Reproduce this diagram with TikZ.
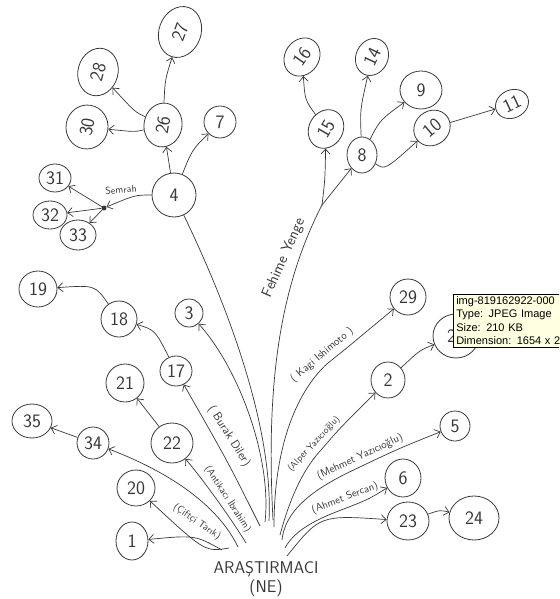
\documentclass[tikz,border=0pt]{standalone}
\usepackage{fontspec}
\newfontfamily\tipfont{Liberation Sans}
\usetikzlibrary{shapes.geometric,arrows.meta}

\definecolor{ink}{HTML}{383838}
\definecolor{tipbg}{HTML}{FFFFE1}

\tikzset{
  num/.style={draw=ink, ellipse, inner sep=0pt, line width=0.8pt, text=ink,
    font=\sffamily\fontsize{19}{19}\selectfont},
  edge/.style={draw=ink, line width=0.7pt, -{Straight Barb[length=5pt,width=9pt]}},
  stem/.style={draw=ink, line width=0.7pt},
  lbl/.style={text=ink, inner sep=0.5pt, font=\sffamily\fontsize{#1}{#1}\selectfont},
  tipbox/.style={draw=black, fill=tipbg, line width=0.6pt, align=left, anchor=north west,
    inner xsep=3pt, inner ysep=2pt, text width=130pt,
    font=\tipfont\fontsize{11}{13.5}\selectfont},
}

\begin{document}
\begin{tikzpicture}[x=1pt,y=-1pt]

\useasboundingbox (0,0) rectangle (559,599);
\clip (0,0) rectangle (559,599);

% -------------------------------------------------
% Root
% -------------------------------------------------
\node[text=ink, align=center, inner sep=0pt, font=\sffamily\fontsize{17}{19}\selectfont]
  (root) at (266,579) {ARAŞTIRMACI\\(NE)};

% -------------------------------------------------
% Nodes, left top (4 and above)
% -------------------------------------------------
\node[num, minimum width=52pt, minimum height=42pt, rotate=70] (n27) at (180,32) {27};
\node[num, minimum width=48pt, minimum height=40pt, rotate=75] (n28) at (98,72) {28};
\node[num, minimum width=44pt, minimum height=38pt, rotate=80] (n26) at (163,125) {26};
\node[num, minimum width=44pt, minimum height=42pt, rotate=80] (n30) at (87,127) {30};
\node[num, minimum width=32pt, minimum height=32pt] (n7) at (220,122) {7};
\node[num, minimum width=44pt, minimum height=44pt] (n4) at (174,195) {4};
\node[num, minimum width=32pt, minimum height=28pt] (n31) at (55,178) {31};
\node[num, minimum width=34pt, minimum height=28pt] (n32) at (50,215) {32};
\node[num, minimum width=36pt, minimum height=30pt] (n33) at (78,235) {33};
\node[circle, fill=ink, minimum size=5pt, inner sep=0pt] (sem) at (104,208) {};
\node[lbl=10, rotate=5] (lsem) at (121,190) {Semrah};

% -------------------------------------------------
% Nodes, right top (Fehime Yenge)
% -------------------------------------------------
\node[num, minimum width=40pt, minimum height=34pt, rotate=55] (n16) at (302,57) {16};
\node[num, minimum width=38pt, minimum height=32pt, rotate=65] (n14) at (372,57) {14};
\node[num, minimum width=40pt, minimum height=34pt, rotate=60] (n15) at (326,129) {15};
\node[num, minimum width=30pt, minimum height=36pt] (n8) at (362,155) {8};
\node[num, minimum width=42pt, minimum height=38pt] (n9) at (421,90) {9};
\node[num, minimum width=38pt, minimum height=34pt, rotate=40] (n10) at (432,128) {10};
\node[num, minimum width=34pt, minimum height=28pt, rotate=25] (n11) at (512,104) {11};
\coordinate (fk) at (322,205);

% -------------------------------------------------
% Nodes, left middle and bottom
% -------------------------------------------------
\node[num, minimum width=38pt, minimum height=36pt] (n19) at (38,289) {19};
\node[num, minimum width=36pt, minimum height=36pt] (n18) at (119,319) {18};
\node[num, minimum width=28pt, minimum height=28pt] (n3) at (189,313) {3};
\node[num, minimum width=32pt, minimum height=30pt] (n17) at (176,371) {17};
\node[num, minimum width=38pt, minimum height=38pt] (n21) at (125,383) {21};
\node[num, minimum width=40pt, minimum height=34pt] (n35) at (32,421) {35};
\node[num, minimum width=32pt, minimum height=32pt] (n34) at (93,443) {34};
\node[num, minimum width=42pt, minimum height=40pt] (n22) at (172,443) {22};
\node[num, minimum width=38pt, minimum height=36pt] (n20) at (136,488) {20};
\node[num, minimum width=32pt, minimum height=38pt] (n1) at (132,541) {1};

% -------------------------------------------------
% Nodes, right middle and bottom
% -------------------------------------------------
\node[num, minimum width=36pt, minimum height=36pt] (n29) at (408,297) {29};
\node[num, minimum width=34pt, minimum height=36pt] (n2) at (388,380) {2};
\node[num, minimum width=46pt, minimum height=44pt] (n2b) at (456,336) {2\hphantom{0}};
\node[num, minimum width=30pt, minimum height=30pt] (n5) at (455,426) {5};
\node[num, minimum width=36pt, minimum height=38pt] (n6) at (403,478) {6};
\node[num, minimum width=42pt, minimum height=38pt] (n23) at (408,521) {23};
\node[num, minimum width=50pt, minimum height=44pt] (n24) at (474,518) {24};

% -------------------------------------------------
% Start points above the root
% -------------------------------------------------
\coordinate (s1) at (222,550);
\coordinate (s20) at (229,548);
\coordinate (s34) at (238,547);
\coordinate (s22) at (246,543);
\coordinate (s17) at (260,526);
\coordinate (s3) at (265,522);
\coordinate (s4) at (269,521);
\coordinate (s8) at (273,520);
\coordinate (s29) at (274,527);
\coordinate (s2) at (280,535);
\coordinate (s5) at (282,540);
\coordinate (s6) at (285,548);
\coordinate (s23) at (287,556);

% -------------------------------------------------
% Connectors from the root
% -------------------------------------------------
\draw[edge] (s1) .. controls (195,535) .. (n1);
\draw[edge] (s20) .. controls (205,552) .. (n20);
\draw[edge] (s34) .. controls (226,522) and (195,482) .. (n34);
\draw[edge] (s22) .. controls (232,520) and (205,482) .. (n22);
\draw[edge] (s17) .. controls (228,462) .. (n17);
\draw[edge] (s3) .. controls (272,460) and (240,370) .. (n3);
\draw[stem] (s4) .. controls (274,420) and (220,290) .. (n4);
\draw[stem] (s8) .. controls (266,390) and (278,290) .. (fk);
\draw[edge] (s29) .. controls (274,420) and (313,376) .. (328,363)
  .. controls (348,347) .. (n29);
\draw[edge] (s2) .. controls (292,490) and (307,465) .. (321,450)
  .. controls (340,428) .. (n2);
\draw[edge] (s5) .. controls (286,500) and (337,478) .. (364,465)
  .. controls (400,448) .. (n5);
\draw[edge] (s6) .. controls (296,527) and (325,516) .. (349,507)
  .. controls (369,499) .. (n6);
\draw[edge] (s23) .. controls (320,515) .. (n23);

% -------------------------------------------------
% Labels of the connectors
% -------------------------------------------------
\node[lbl=12, rotate=-58] (lbd) at (229,436) {( Burak Diler)};
\node[lbl=10, rotate=-57] (lai) at (228,499) {(Antikacı İbrahim)};
\node[lbl=10, rotate=-34] (lct) at (197,522) {(Çiftçi Tarık)};
\node[lbl=15, rotate=66] (lfy) at (284,258) {Fehime Yenge};
\node[lbl=11, rotate=40] (lki) at (322,355) {( Kagi Ishimoto )};
\node[lbl=9.5, rotate=47] (lay) at (314,444) {(Alper Yazıcıoğlu)};
\node[lbl=11, rotate=25] (lmy) at (360,457) {(Mehmet Yazıcıoğlu)};
\node[lbl=10.5, rotate=21] (las) at (345,498) {(Ahmet Sercan)};

% -------------------------------------------------
% Connectors between numbers
% -------------------------------------------------
\draw[edge] (n4) -- (n26);
\draw[edge] (n4) .. controls (192,150) .. (n7);
\draw[edge] (n26) .. controls (165,80) .. (n27);
\draw[edge] (n26) .. controls (135,112) .. (n28);
\draw[edge] (n26) .. controls (135,132) .. (n30);
\draw[edge] (n4) .. controls (135,195) .. (sem);
\draw[edge] (sem) -- (n31);
\draw[edge] (sem) -- (n32);
\draw[edge] (sem) -- (n33);
\draw[edge] (fk) .. controls (325,180) .. (n15);
\draw[edge] (fk) -- (n8);
\draw[edge] (n15) .. controls (305,100) .. (n16);
\draw[edge] (n8) .. controls (360,110) .. (n14);
\draw[edge] (n8) .. controls (380,120) .. (n9);
\draw[edge] (n8) .. controls (385,170) .. (n10);
\draw[edge] (n10) -- (n11);
\draw[edge] (n17) .. controls (155,330) .. (n18);
\draw[edge] (n18) .. controls (95,285) .. (n19);
\draw[edge] (n22) -- (n21);
\draw[edge] (n34) -- (n35);
\draw[edge] (n2) .. controls (420,350) .. (n2b);
\draw[edge] (n23) .. controls (440,510) .. (n24);

% -------------------------------------------------
% Tooltip
% -------------------------------------------------
\node[tipbox] (tip) at (453,294)
  {img-819162922-000\\Type: JPEG Image\\Size: 210 KB\\Dimension: 1654 x 2339};

\end{tikzpicture}
\end{document}
